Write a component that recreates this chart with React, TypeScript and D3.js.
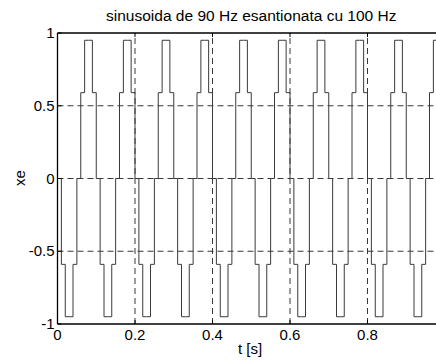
import * as d3 from "d3"
import React from "react"

// sampled values x[n] (100 samples, fs = 100 Hz)
const sampleRate = 100
const samples = [
  0, -0.59, -0.95, -0.95, -0.59, 0, 0.59, 0.95, 0.95, 0.59,
  0, -0.59, -0.95, -0.95, -0.59, 0, 0.59, 0.95, 0.95, 0.59,
  0, -0.59, -0.95, -0.95, -0.59, 0, 0.59, 0.95, 0.95, 0.59,
  0, -0.59, -0.95, -0.95, -0.59, 0, 0.59, 0.95, 0.95, 0.59,
  0, -0.59, -0.95, -0.95, -0.59, 0, 0.59, 0.95, 0.95, 0.59,
  0, -0.59, -0.95, -0.95, -0.59, 0, 0.59, 0.95, 0.95, 0.59,
  0, -0.59, -0.95, -0.95, -0.59, 0, 0.59, 0.95, 0.95, 0.59,
  0, -0.59, -0.95, -0.95, -0.59, 0, 0.59, 0.95, 0.95, 0.59,
  0, -0.59, -0.95, -0.95, -0.59, 0, 0.59, 0.95, 0.95, 0.59,
  0, -0.59, -0.95, -0.95, -0.59, 0, 0.59, 0.95, 0.95, 0.59,
]
const xTicks = [0, 0.2, 0.4, 0.6, 0.8, 1]
const xTickLabels = [0, 0.2, 0.4, 0.6, 0.8] // the "1" falls outside the window
const yTicks = [-1, -0.5, 0, 0.5, 1]
const xGrid = [0.2, 0.4, 0.6, 0.8]
const yGrid = [-0.5, 0, 0.5]

const title = "sinusoida de 90 Hz esantionata cu 100 Hz"
const xLabel = "t [s]"
const yLabel = "xe"

const width = 436
const height = 362
const margin = { top: 33, left: 57.5, bottom: 324, right: 445 }
const font = "'Liberation Sans', Arial, Helvetica, sans-serif"

const App = () => {
  const x = d3.scaleLinear().domain([0, 1]).range([margin.left, margin.right])
  const y = d3.scaleLinear().domain([-1, 1]).range([margin.bottom, margin.top])

  const pts = samples.map((v, i) => [i / sampleRate, v] as [number, number])
  const stairs = d3.line<[number, number]>()
    .x(d => x(d[0]))
    .y(d => y(d[1]))
    .curve(d3.curveStepAfter)(pts)

  const fmt = (v: number) => (v === 0 ? "0" : String(v))
  const tick = 4

  return (
    <svg width={width} height={height} style={{ position: "absolute", left: 0, top: 0, background: "#fff" }}
      fontFamily={font}>
      <rect width={width} height={height} fill="#fff" />

      {/* grid */}
      <g stroke="#222" strokeWidth={0.9} strokeDasharray="6,4" fill="none">
        {xGrid.map(t => (
          <line key={"gx" + t} x1={x(t)} x2={x(t)} y1={y(-1)} y2={y(1)} />
        ))}
        {yGrid.map(t => (
          <line key={"gy" + t} x1={x(0)} x2={x(1)} y1={y(t)} y2={y(t)} />
        ))}
      </g>

      {/* signal */}
      <path d={stairs ?? ""} fill="none" stroke="#3a3a3a" strokeWidth={1} />

      {/* axes box */}
      <g stroke="#000" strokeWidth={1.3} fill="none">
        <line x1={x(0)} x2={x(1)} y1={y(1)} y2={y(1)} />
        <line x1={x(0)} x2={x(1)} y1={y(-1)} y2={y(-1)} />
        <line x1={x(0)} x2={x(0)} y1={y(-1)} y2={y(1)} />
      </g>

      {/* ticks */}
      <g stroke="#000" strokeWidth={1}>
        {xTicks.map(t => (
          <g key={"tx" + t}>
            <line x1={x(t)} x2={x(t)} y1={y(-1)} y2={y(-1) - tick} />
            <line x1={x(t)} x2={x(t)} y1={y(1)} y2={y(1) + tick} />
          </g>
        ))}
        {yTicks.map(t => (
          <line key={"ty" + t} x1={x(0)} x2={x(0) + tick} y1={y(t)} y2={y(t)} />
        ))}
      </g>

      {/* tick labels */}
      <g fontSize={15} fill="#000">
        {xTickLabels.map(t => (
          <text key={"lx" + t} x={x(t)} y={y(-1) + 16} textAnchor="middle">{fmt(t)}</text>
        ))}
        {yTicks.map(t => (
          <text key={"ly" + t} x={x(0) - 3} y={y(t) + 5} textAnchor="end">{fmt(t)}</text>
        ))}
      </g>

      <text x={(margin.left + margin.right) / 2} y={21} textAnchor="middle" fontSize={15.5}>{title}</text>
      <text x={250} y={354} textAnchor="middle" fontSize={15}>{xLabel}</text>
      <text transform={`translate(25,178) rotate(-90)`} textAnchor="middle" fontSize={15}>{yLabel}</text>
    </svg>
  )
}

export default App
